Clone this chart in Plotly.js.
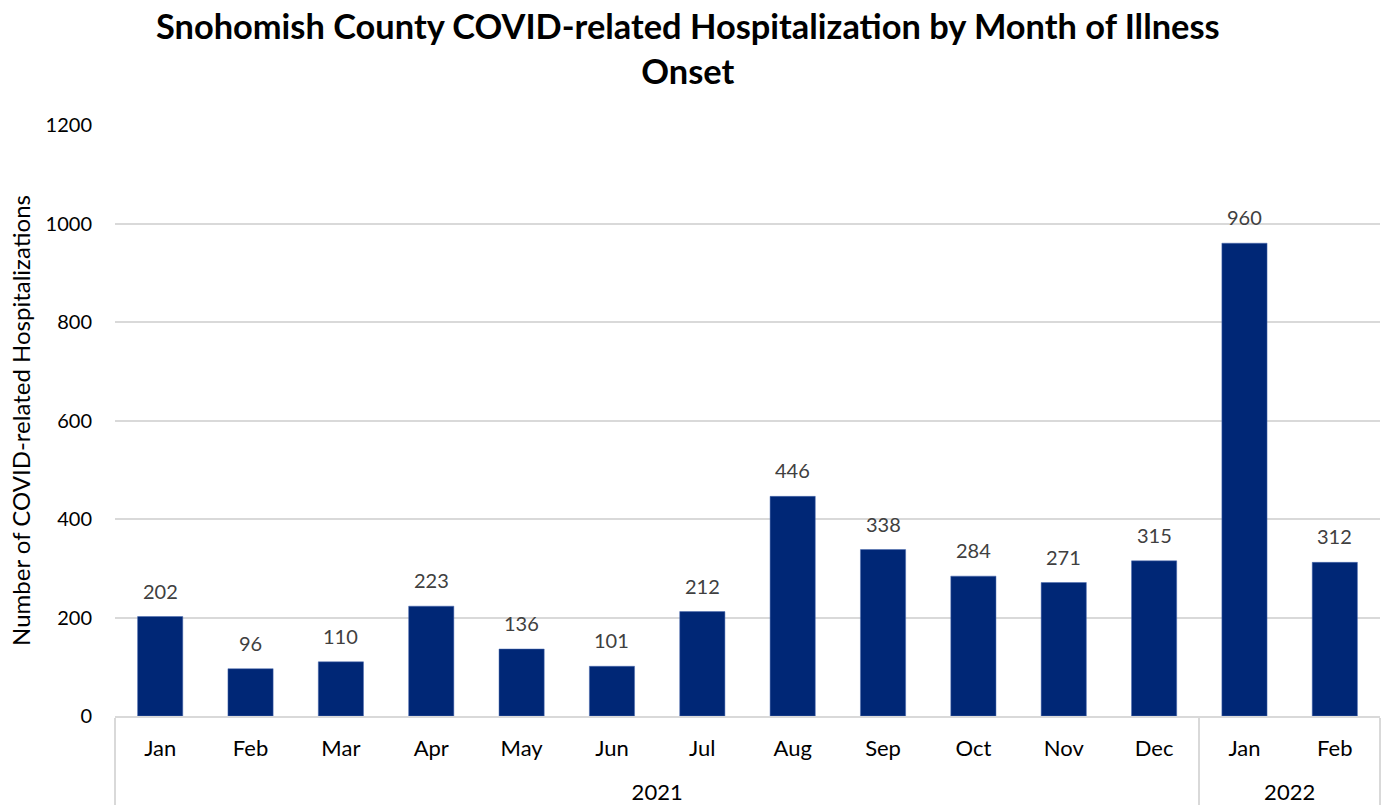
<!DOCTYPE html>
<html>
<head>
<meta charset="utf-8">
<script src="https://cdn.plot.ly/plotly-3.0.1.min.js"></script>
<style>
  html, body { margin: 0; padding: 0; background: #fff; }
  #plot { width: 1384px; height: 805px; }
</style>
</head>
<body>
<div id="plot"></div>
<script>
const years = ['2021', '2021', '2021', '2021', '2021', '2021', '2021', '2021', '2021', '2021', '2021', '2021', '2022', '2022'];
const months = ['Jan', 'Feb', 'Mar', 'Apr', 'May', 'Jun', 'Jul', 'Aug', 'Sep', 'Oct', 'Nov', 'Dec', 'Jan', 'Feb'];
const hospitalizations = [202, 96, 110, 223, 136, 101, 212, 446, 338, 284, 271, 315, 960, 312];
const yTicks = [0, 200, 400, 600, 800, 1000, 1200];

const font = 'Lato, "Open Sans", sans-serif';

// a small empty second line under each month pushes the year row further down
const monthLabels = months.map(m => m + '<br><span style="font-size:12px">\u00a0</span>');

const trace = {
  type: 'bar',
  x: [years, monthLabels],
  y: hospitalizations,
  marker: { color: '#002776', line: { color: '#4a6bb0', width: 0.5 } },
  hoverinfo: 'y',
};

// value labels sit a little above each bar, as in the original
const labels = hospitalizations.map((v, i) => ({
  x: i,
  y: v,
  xref: 'x',
  yref: 'y',
  text: String(v),
  showarrow: false,
  yanchor: 'bottom',
  yshift: 12,
  font: { family: font, size: 20, color: '#404040' },
}));

const layout = {
  width: 1384,
  height: 805,
  margin: { l: 115, r: 4, t: 125, b: 89 },
  paper_bgcolor: '#fff',
  plot_bgcolor: '#fff',
  font: { family: font, size: 20, color: '#000' },
  title: {
    text: '<b>Snohomish County COVID-related Hospitalization by Month of Illness<br>Onset</b>',
    font: { family: font, size: 34.4, color: '#000' },
    x: 0.497,
    xanchor: 'center',
    y: 0.951,
    yanchor: 'middle',
  },
  bargap: 0.5,
  showlegend: false,
  annotations: labels,
  xaxis: {
    type: 'multicategory',
    showline: true,
    linecolor: '#d9d9d9',
    linewidth: 1.5,
    ticks: '',
    ticklabelstandoff: 12,
    tickfont: { family: font, size: 22, color: '#000' },
    showdividers: true,
    dividercolor: '#d9d9d9',
    dividerwidth: 1.5,
    showgrid: false,
  },
  yaxis: {
    range: [0, 1200],
    tickvals: yTicks,
    showgrid: true,
    gridcolor: '#d9d9d9',
    gridwidth: 1.5,
    zeroline: false,
    ticks: '',
    ticklabelstandoff: 22,
    tickfont: { family: font, size: 20, color: '#000' },
    title: {
      text: 'Number of COVID-related Hospitalizations',
      font: { family: font, size: 24, color: '#000' },
      standoff: 8,
    },
  },
};

Plotly.newPlot('plot', [trace], layout, { displayModeBar: false, responsive: false });
</script>
</body>
</html>
